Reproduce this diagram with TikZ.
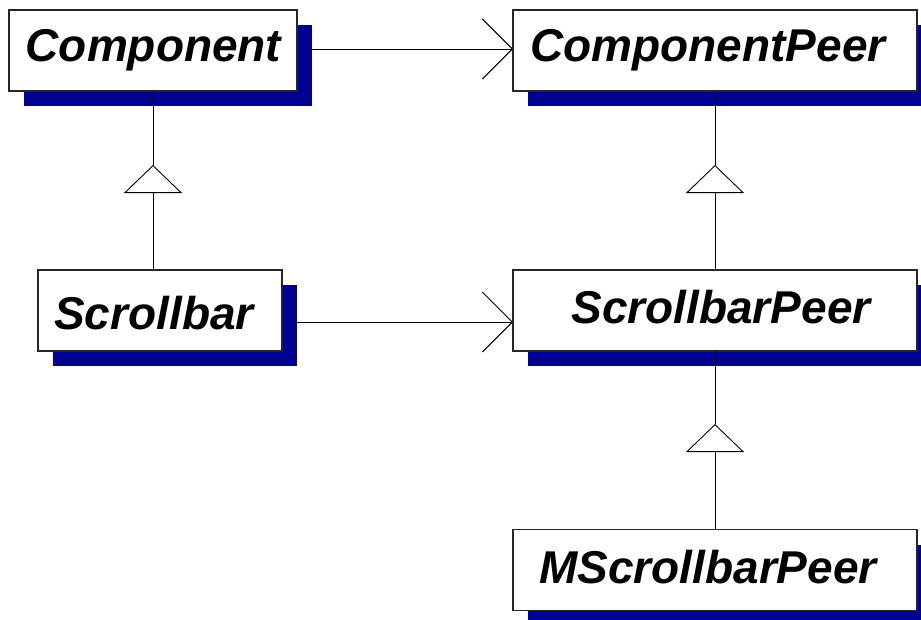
\documentclass[tikz,border=0pt]{standalone}
\usepackage{fontspec}
\setmainfont{Liberation Sans}
\usetikzlibrary{arrows.meta,shadows}
\definecolor{shadowblue}{RGB}{0,0,145}
\tikzset{
  classbox/.style={draw=black!85, line width=1.2pt, fill=white, rectangle,
    inner sep=0pt, outer sep=0pt, minimum height=81pt,
    drop shadow={shadow xshift=15pt, shadow yshift=-15pt, fill=shadowblue, opacity=1}},
  classname/.style={font=\fontsize{46}{55}\selectfont\bfseries\itshape, inner sep=0pt},
  assoc/.style={line width=0.9pt, -{Straight Barb[length=30pt, width=60pt, line width=0.9pt]}},
  inherit/.style={line width=0.9pt, -{Triangle[open, length=28pt, width=58pt, line width=0.9pt, fill=white]}},
  plain/.style={line width=0.9pt}
}
\begin{document}
\begin{tikzpicture}[x=1pt, y=-1pt]
\useasboundingbox (0,0) rectangle (921,619);

% associations drawn first so the shadows cover their start
\coordinate (a1s) at (297,49);
\coordinate (a1e) at (513,49);
\coordinate (a2s) at (282,322);
\coordinate (a2e) at (513,322);
\draw[assoc] (a1s) -- (a1e);
\draw[assoc] (a2s) -- (a2e);

% class boxes
\node[classbox, minimum width=288pt] (comp) at (153,50.5) {};
\node[classbox, minimum width=404pt] (cpeer) at (715,50.5) {};
\node[classbox, minimum width=244pt] (sb) at (160,310.5) {};
\node[classbox, minimum width=404pt] (sbpeer) at (715,310.5) {};
\node[classbox, minimum width=404pt] (msb) at (715,570) {};

% class names
\node[classname] (compname) at (153.5,50) {Component};
\node[classname] (cpeername) at (708,50) {ComponentPeer};
\node[classname] (sbname) at (154,313) {Scrollbar};
\node[classname] (sbpeername) at (721,307) {ScrollbarPeer};
\node[classname] (msbname) at (708,567) {MScrollbarPeer};

% generalisations
\coordinate (t1) at (153,165);
\coordinate (t2) at (715,165);
\coordinate (t3) at (715,424);
\draw[inherit] (153,270) -- (t1);
\draw[plain] (t1) -- (comp.south);
\draw[inherit] (sbpeer.north) -- (t2);
\draw[plain] (t2) -- (cpeer.south);
\draw[inherit] (msb.north) -- (t3);
\draw[plain] (t3) -- (sbpeer.south);
\end{tikzpicture}
\end{document}
